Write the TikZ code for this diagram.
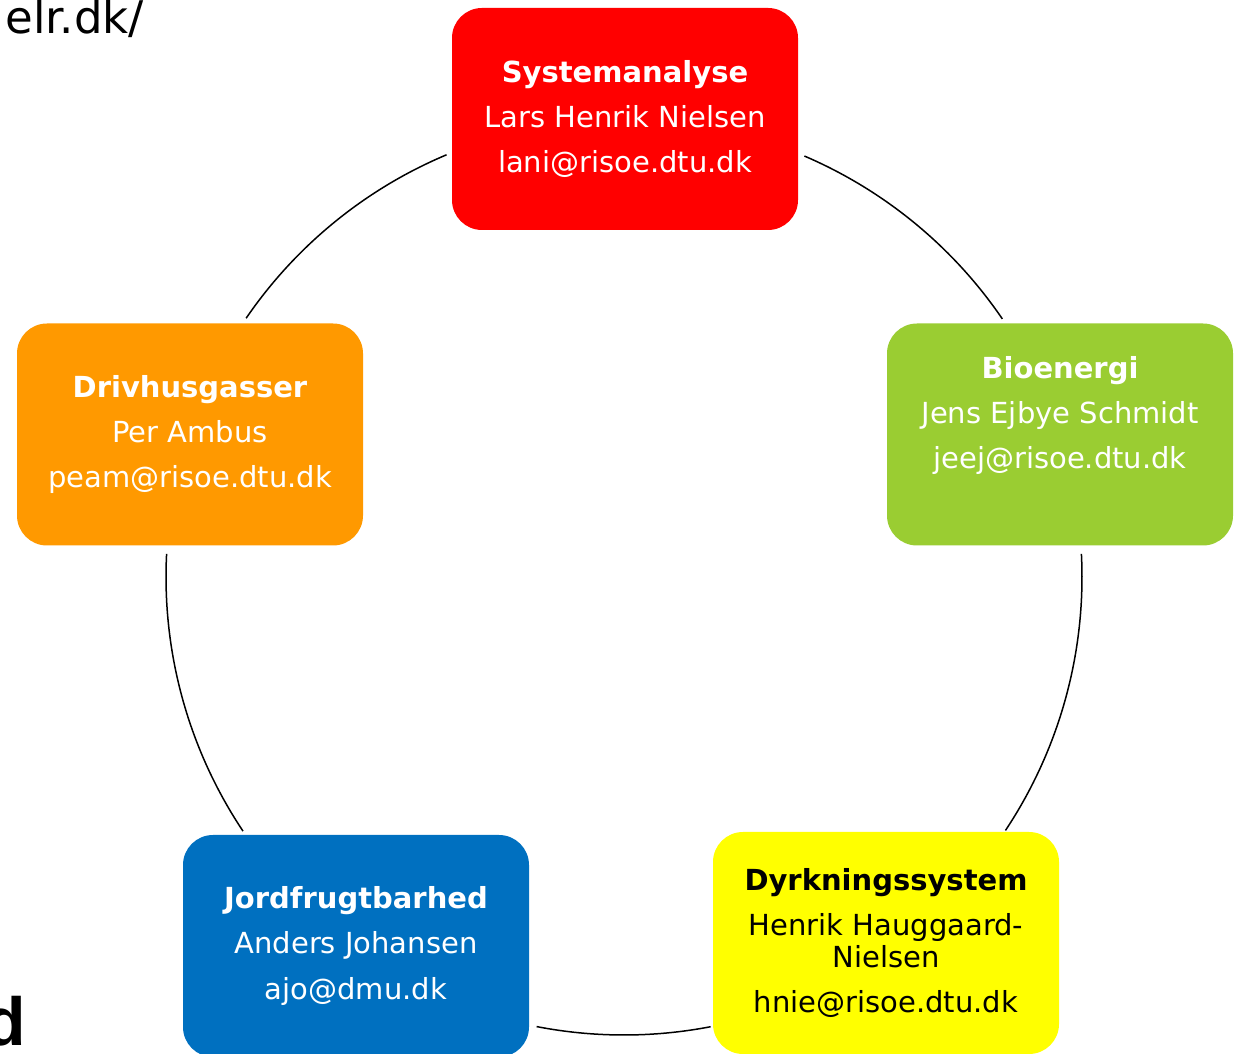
\documentclass[tikz,border=0pt]{standalone}
\usepackage{fontspec}
\setmainfont{DejaVu Sans}
\newfontfamily\arialbold{Liberation Sans Bold}
\usetikzlibrary{positioning}

\definecolor{sysred}{HTML}{FF0000}
\definecolor{biogreen}{HTML}{9ACD32}
\definecolor{gasorange}{HTML}{FF9900}
\definecolor{jordblue}{HTML}{0070C0}
\definecolor{dyrkyellow}{HTML}{FFFF00}

\begin{document}
\begin{tikzpicture}[
    x=0.5pt, y=0.5pt,
    box/.style={rounded corners=15pt, minimum width=173pt, minimum height=111pt,
      inner sep=0pt, align=center, text=white,
      font=\fontsize{14.5}{22.5}\selectfont},
    ring/.style={line width=0.75pt}
  ]
  \clip (0,0) rectangle (1236,1054);

  % noder
  \node[box, fill=sysred] (sysana) at (625,935)
    {\textbf{Systemanalyse}\\Lars Henrik Nielsen\\lani@risoe.dtu.dk};
  \node[box, fill=biogreen] (bioen) at (1060,619.5)
    {\textbf{Bioenergi}\\Jens Ejbye Schmidt\\jeej@risoe.dtu.dk\\\mbox{}};
  \node[box, fill=gasorange] (drivhus) at (190,619.5)
    {\textbf{Drivhusgasser}\\Per Ambus\\peam@risoe.dtu.dk};
  \node[box, fill=jordblue] (jord) at (356,108)
    {\textbf{Jordfrugtbarhed}\\Anders Johansen\\ajo@dmu.dk};
  \node[box, fill=dyrkyellow, text=black] (dyrk) at (886,111)
    {\textbf{Dyrkningssystem}\\Henrik Hauggaard-\\[-6.5pt]Nielsen\\hnie@risoe.dtu.dk};

  % tekst i kanten
  \node[anchor=base west, inner sep=0pt, font=\fontsize{22.5}{27}\selectfont] (url) at (5,1020) {elr.dk/};
  \node[anchor=base east, inner sep=0pt, font=\arialbold\fontsize{34}{40}\selectfont] (cut) at (26,9) {d};

  % cirklen mellem boksene
  \coordinate (hub) at (624,477);
  \draw[ring] ([shift={(66.8:229pt)}]hub) arc[start angle=66.8, end angle=34.3, radius=229pt];
  \draw[ring] ([shift={(112.8:229pt)}]hub) arc[start angle=112.8, end angle=145.6, radius=229pt];
  \draw[ring] ([shift={(177.1:229pt)}]hub) arc[start angle=177.1, end angle=213.7, radius=229pt];
  \draw[ring] ([shift={(259:229pt)}]hub) arc[start angle=259, end angle=280.9, radius=229pt];
  \draw[ring] ([shift={(326.4:229pt)}]hub) arc[start angle=326.4, end angle=362.9, radius=229pt];

\end{tikzpicture}
\end{document}
